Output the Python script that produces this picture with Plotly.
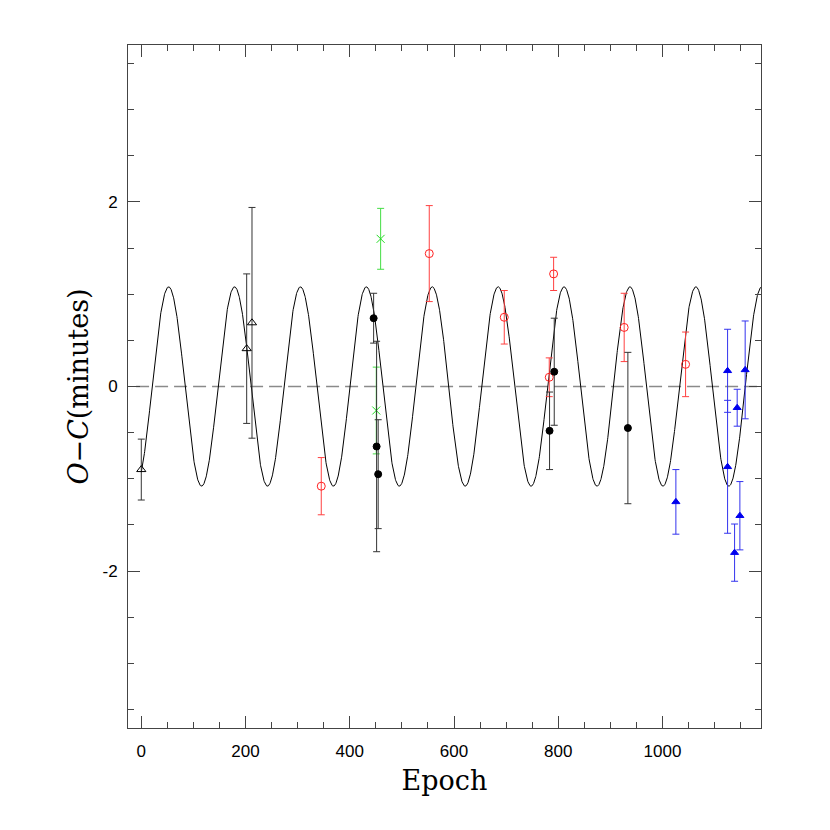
import numpy as np
import plotly.graph_objects as go

# ---- data ----
# black open triangles
tri_epoch = [0.0, 202.2, 212.4]
tri_oc = [-0.90, 0.41, 0.69]
tri_err = [0.33, 0.81, 1.25]

# red open circles
circ_epoch = [345.3, 552.5, 696.4, 782.7, 791.1, 926.5, 1044.3]
circ_oc = [-1.08, 1.44, 0.75, 0.10, 1.22, 0.64, 0.24]
circ_err = [0.31, 0.52, 0.29, 0.21, 0.18, 0.37, 0.35]

# green crosses
cross_epoch = [459.2, 450.8]
cross_oc = [1.60, -0.26]
cross_err = [0.33, 0.47]

# black filled circles
dot_epoch = [445.8, 451.5, 454.5, 783.3, 792.3, 933.6]
dot_oc = [0.74, -0.65, -0.95, -0.48, 0.16, -0.45]
dot_err = [0.27, 1.14, 0.59, 0.42, 0.58, 0.82]

# blue filled triangles
btri_epoch = [1025.7, 1124.9, 1124.9, 1143.3, 1158.6, 1138.3, 1148.5]
btri_oc = [-1.25, 0.17, -0.87, -0.23, 0.18, -1.80, -1.40]
btri_err = [0.35, 0.45, 0.72, 0.20, 0.53, 0.31, 0.37]

# sinusoidal model (fitted curve)
model_amp = 1.08
model_period = 126.45
model_e0 = 20.8
model_start = 0.0

x_range = [-25.5, 1189]
y_range = [-3.7, 3.7]
x_ticks = [0, 200, 400, 600, 800, 1000]
y_ticks = [-2, 0, 2]
y_ticktext = ["-2", "0", "2"]

model_x = np.linspace(model_start, x_range[1], 2400)
model_y = model_amp * np.sin(2 * np.pi * (model_x - model_e0) / model_period)

fig = go.Figure()

# zero reference line
fig.add_trace(go.Scatter(x=[-10, x_range[1]], y=[0, 0], mode="lines",
                         line=dict(color="#8a8a8a", width=1.5, dash="13px,6px"),
                         hoverinfo="skip"))
# model curve
fig.add_trace(go.Scatter(x=model_x, y=model_y, mode="lines",
                         line=dict(color="black", width=1), hoverinfo="skip"))


def add_group(xs, ys, errs, symbol, color, barcolor, size):
    fig.add_trace(go.Scatter(
        x=xs, y=ys, mode="markers",
        marker=dict(symbol=symbol, size=size, color=color,
                    line=dict(color=color, width=1)),
        error_y=dict(type="data", array=errs, symmetric=True,
                     color=barcolor, thickness=1, width=3.5),
    ))


add_group(tri_epoch, tri_oc, tri_err, "triangle-up-open", "black", "#333333", 8)
add_group(circ_epoch, circ_oc, circ_err, "circle-open", "#ff2020", "#ff4040", 8)
add_group(cross_epoch, cross_oc, cross_err, "x-thin-open", "#22dd22", "#44dd44", 8)
add_group(dot_epoch, dot_oc, dot_err, "circle", "black", "#333333", 7)
add_group(btri_epoch, btri_oc, btri_err, "triangle-up", "#0000ee", "#3333ee", 7)

axis_common = dict(
    showgrid=False, zeroline=False, showline=True, linecolor="#444444",
    linewidth=1, mirror="ticks", ticks="inside", tickcolor="#444444",
    tickwidth=1, ticklen=12,
    tickfont=dict(family="Liberation Sans, Arial, sans-serif", size=17, color="black"),
)

fig.update_layout(
    width=830, height=830,
    paper_bgcolor="white", plot_bgcolor="white",
    margin=dict(l=120, r=77, t=37, b=110),
    showlegend=False,
    xaxis=dict(
        range=x_range, tickmode="array", tickvals=x_ticks,
        minor=dict(dtick=50, tick0=0, ticks="inside", ticklen=6,
                   tickcolor="#444444", showgrid=False),
        title=dict(text="Epoch", font=dict(family="DejaVu Serif, serif", size=27, color="black"),
                   standoff=10),
        ticklabelstandoff=8,
        **axis_common,
    ),
    yaxis=dict(
        range=y_range, tickmode="array", tickvals=y_ticks, ticktext=y_ticktext,
        minor=dict(dtick=0.5, tick0=0, ticks="inside", ticklen=6,
                   tickcolor="#444444", showgrid=False),
        title=dict(text="<i>O</i>−<i>C</i>(minutes)",
                   font=dict(family="DejaVu Serif, serif", size=27, color="black"),
                   standoff=6),
        ticklabelstandoff=6,
        **axis_common,
    ),
)

fig.write_html("out.html")
